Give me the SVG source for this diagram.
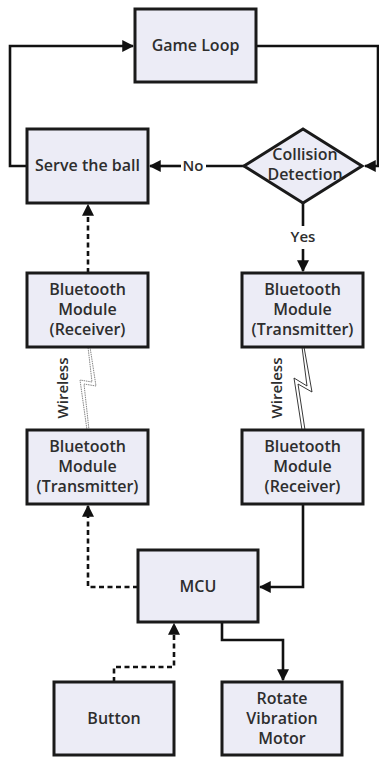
<svg xmlns="http://www.w3.org/2000/svg" width="379" height="758" viewBox="0 0 379 758">
<defs>
<marker id="ah" viewBox="0 0 10 10" refX="9" refY="5" markerWidth="4.8" markerHeight="4.6" orient="auto" markerUnits="strokeWidth">
<path d="M0,0 L10,5 L0,10 z" fill="#111"/>
</marker>
</defs>
<style>
.box{fill:#ececf6;stroke:#1a1a1a;stroke-width:3}
.t{font-family:"Open Sans","DejaVu Sans",sans-serif;font-size:16px;font-weight:600;fill:#2e2e2e;text-anchor:middle}
.c{fill:none;stroke:#111;stroke-width:2.6}
.d{fill:none;stroke:#111;stroke-width:2.6;stroke-dasharray:5,3.5}
.lbl{font-family:"Open Sans","DejaVu Sans",sans-serif;font-size:15px;font-weight:600;fill:#2e2e2e;text-anchor:middle}
</style>
<rect width="379" height="758" fill="#fff"/>
<g id="connectors">
<path class="c" d="M27,166 H10 V46 H133" marker-end="url(#ah)"/>
<path class="c" d="M256,46 H378 V166 H365" marker-end="url(#ah)"/>
<path class="c" d="M244,166 H206"/>
<path class="c" d="M181,166 H150" marker-end="url(#ah)"/>
<path class="c" d="M303,202 V226"/>
<path class="c" d="M303,249 V271" marker-end="url(#ah)"/>
<path class="d" d="M88,273 V205" marker-end="url(#ah)"/>
<path class="d" d="M138,587 H88 V506" marker-end="url(#ah)"/>
<path class="c" d="M303,504 V587 H260" marker-end="url(#ah)"/>
<path class="c" d="M222,622 V640 H283 V680" marker-end="url(#ah)"/>
<path class="d" d="M114,682 V667 H174 V624" marker-end="url(#ah)"/>
<polygon points="90,347 96,386 84,384 89,430 87,430 80,380 92,382 88,347" fill="#fff" stroke="#777" stroke-width="0.9" stroke-dasharray="1.5,0.8"/>
<polygon points="304,347 312,392 298,384 305,430 302,430 294,378 307,386 302,347" fill="#fff" stroke="#222" stroke-width="0.9"/>
<text class="lbl" x="193" y="171">No</text>
<text class="lbl" x="303" y="242">Yes</text>
<text class="lbl" transform="translate(68,388) rotate(-90)">Wireless</text>
<text class="lbl" transform="translate(282,388) rotate(-90)">Wireless</text>
</g>
<g id="game-loop">
<rect class="box" x="135" y="9" width="121" height="73"/>
<text class="t" x="195.5" y="51">Game Loop</text>
</g>
<g id="serve-ball">
<rect class="box" x="27" y="129" width="121" height="74"/>
<text class="t" x="87.5" y="171">Serve the ball</text>
</g>
<g id="collision">
<polygon points="244,166 303,129 362,166 303,203" fill="#ececf6" stroke="#1a1a1a" stroke-width="3"/>
<text class="t" x="305" y="160">Collision</text>
<text class="t" x="305" y="180">Detection</text>
</g>
<g id="bt-receiver-top">
<rect class="box" x="27" y="273" width="121" height="74"/>
<text class="t" x="87.5" y="295">Bluetooth</text>
<text class="t" x="87.5" y="315">Module</text>
<text class="t" x="87.5" y="335">(Receiver)</text>
</g>
<g id="bt-transmitter-top">
<rect class="box" x="242" y="273" width="121" height="74"/>
<text class="t" x="302.5" y="295">Bluetooth</text>
<text class="t" x="302.5" y="315">Module</text>
<text class="t" x="302.5" y="335">(Transmitter)</text>
</g>
<g id="bt-transmitter-bottom">
<rect class="box" x="27" y="430" width="121" height="74"/>
<text class="t" x="87.5" y="452">Bluetooth</text>
<text class="t" x="87.5" y="472">Module</text>
<text class="t" x="87.5" y="492">(Transmitter)</text>
</g>
<g id="bt-receiver-bottom">
<rect class="box" x="242" y="430" width="121" height="74"/>
<text class="t" x="302.5" y="452">Bluetooth</text>
<text class="t" x="302.5" y="472">Module</text>
<text class="t" x="302.5" y="492">(Receiver)</text>
</g>
<g id="mcu">
<rect class="box" x="138" y="550" width="120" height="72"/>
<text class="t" x="198" y="592">MCU</text>
</g>
<g id="button">
<rect class="box" x="54" y="682" width="120" height="73"/>
<text class="t" x="114" y="724">Button</text>
</g>
<g id="motor">
<rect class="box" x="222" y="682" width="120" height="73"/>
<text class="t" x="282" y="704">Rotate</text>
<text class="t" x="282" y="724">Vibration</text>
<text class="t" x="282" y="744">Motor</text>
</g>
</svg>
